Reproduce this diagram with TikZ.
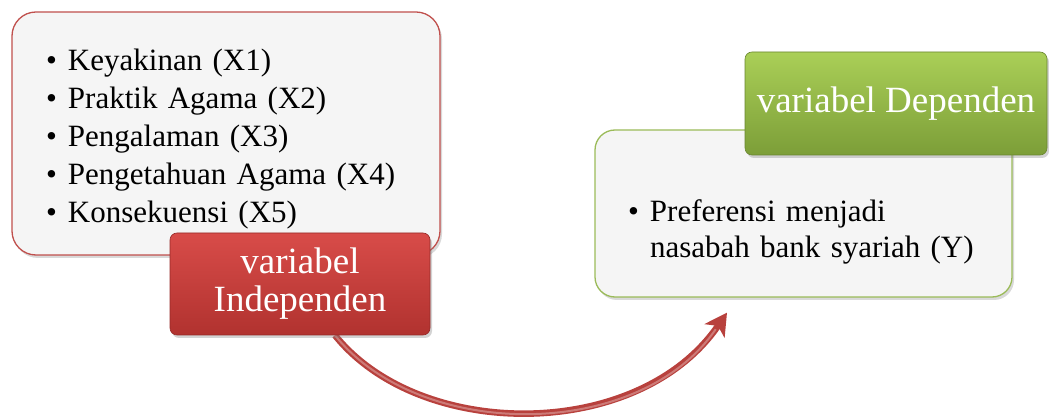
\documentclass[tikz,border=0pt]{standalone}
\usepackage{fontspec}
\setmainfont{Liberation Serif}
\usetikzlibrary{arrows.meta,shadows,backgrounds}

\definecolor{redline}{HTML}{C0504D}
\definecolor{redtop}{HTML}{D84C49}
\definecolor{redbot}{HTML}{B1322F}
\definecolor{greenline}{HTML}{9BBB59}
\definecolor{greentop}{HTML}{AACF57}
\definecolor{greenbot}{HTML}{7C9E38}
\definecolor{arrowred}{HTML}{B8413D}

\newcommand\itm[1]{\hangindent=22pt\hangafter=1\noindent\makebox[22pt][l]{\textbullet}#1\par}

\begin{document}
\begin{tikzpicture}[
  x=1pt,y=-1pt,
  listbox/.style={draw,line width=1.3pt,fill=black!4,inner sep=0pt,
    drop shadow={shadow xshift=2pt,shadow yshift=-3pt,opacity=0.3}},
  listtxt/.style={inner sep=0pt,font=\fontsize{31}{38}\selectfont},
  lab/.style={draw,line width=0.6pt,rounded corners=7pt,align=center,text=white,
    font=\fontsize{37}{38}\selectfont,inner sep=0pt,
    drop shadow={shadow xshift=2pt,shadow yshift=-3pt,opacity=0.35}},
  flow/.style={-{Stealth[length=22pt,width=24pt,inset=6pt]},line width=6.5pt,draw=arrowred}
]
\useasboundingbox (0,0) rectangle (1049,419);
% independent side
\node[listbox,draw=redline,rounded corners=24pt,minimum width=428pt,minimum height=243pt]
  (xbox) at (226,133.5) {};
\node[listtxt,text width=360pt] (xlist) at (226,139.5)
  {\raggedright\itm{Keyakinan (X1)}\itm{Praktik Agama (X2)}\itm{Pengalaman (X3)}%
  \itm{Pengetahuan Agama (X4)}\itm{Konsekuensi (X5)}};
\node[lab,draw=redbot!85!black,top color=redtop,bottom color=redbot,minimum width=260pt,minimum height=102pt]
  (indep) at (300,284) {variabel\\Independen};
% dependent side
\node[listbox,draw=greenline,rounded corners=20pt,minimum width=417pt,minimum height=167pt]
  (ybox) at (803.5,213.5) {};
\node[listtxt,text width=351pt,font=\fontsize{31}{36}\selectfont] (ylist) at (803.5,231.5)
  {\raggedright\itm{Preferensi menjadi\newline nasabah bank syariah (Y)}};
\node[lab,draw=greenbot!85!black,top color=greentop,bottom color=greenbot,minimum width=302pt,minimum height=103pt]
  (dep) at (896,103.5) {variabel Dependen};
% curved arrow
\begin{scope}[on background layer]
\draw[flow] ([xshift=35pt]indep.south) .. controls +(85,106) and +(-88,129) .. ([xshift=-76.5pt,yshift=-15pt]ybox.south);
\draw[line width=2pt,white,opacity=0.3,shorten >=20pt] ([xshift=35pt]indep.south) .. controls +(85,106) and +(-88,129) .. ([xshift=-76.5pt,yshift=-15pt]ybox.south);
\end{scope}
\end{tikzpicture}
\end{document}
